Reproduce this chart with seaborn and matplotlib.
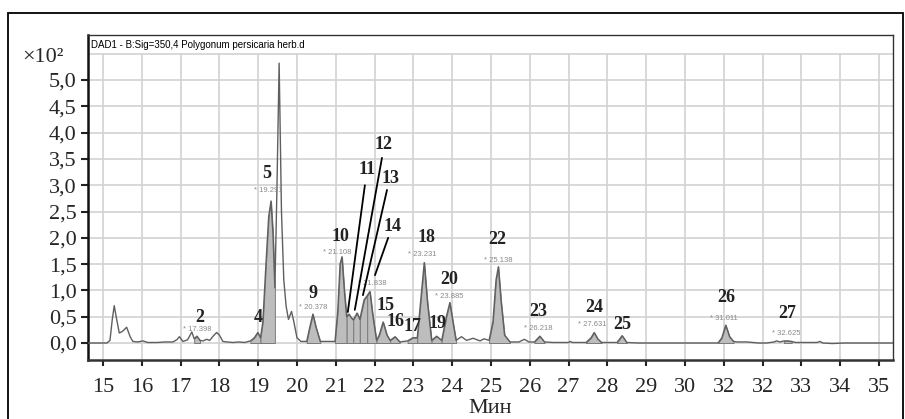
import numpy as np
import pandas as pd
import matplotlib
matplotlib.use("Agg")
import matplotlib.pyplot as plt
import seaborn as sns
from matplotlib.patches import Rectangle

# chromatogram trace: retention time (min) and signal (x10^2)
rt = [14.60, 15.10, 15.18, 15.24, 15.29, 15.34, 15.42, 15.50, 15.61, 15.70, 15.77, 15.90,
      16.03, 16.15, 16.40, 16.60, 16.80, 16.90, 16.97, 17.06, 17.18, 17.29, 17.35, 17.42,
      17.50, 17.58, 17.67, 17.75, 17.85, 17.93, 18.00, 18.09, 18.20, 18.35, 18.50, 18.65,
      18.80, 18.90, 18.99, 19.06, 19.12, 19.20, 19.27, 19.33, 19.38, 19.43, 19.48, 19.54,
      19.60, 19.66, 19.72, 19.78, 19.86, 19.92, 20.00, 20.10, 20.25, 20.33, 20.41, 20.49,
      20.60, 20.98, 21.05, 21.11, 21.16, 21.22, 21.28, 21.34, 21.40, 21.45, 21.55, 21.62,
      21.73, 21.81, 21.88, 21.95, 22.05, 22.12, 22.22, 22.32, 22.40, 22.53, 22.65, 22.85,
      22.99, 23.10, 23.20, 23.28, 23.36, 23.47, 23.60, 23.73, 23.85, 23.94, 24.02, 24.10,
      24.24, 24.37, 24.54, 24.72, 24.82, 24.95, 25.05, 25.13, 25.19, 25.26, 25.35, 25.49,
      25.60, 25.72, 25.86, 25.98, 26.12, 26.26, 26.38, 26.60, 27.00, 27.04, 27.10, 27.45,
      27.58, 27.66, 27.75, 27.85, 28.25, 28.38, 28.50, 28.80, 30.85, 30.95, 31.05, 31.15,
      31.25, 31.35, 31.60, 31.90, 32.10, 32.30, 32.36, 32.45, 32.55, 32.65, 32.75, 32.85,
      33.40, 33.48, 33.55, 33.80, 34.10, 35.36]
signal = [0.00, 0.00, 0.05, 0.45, 0.71, 0.50, 0.19, 0.22, 0.30, 0.12, 0.03, 0.02,
          0.04, 0.01, 0.01, 0.02, 0.02, 0.06, 0.12, 0.03, 0.06, 0.21, 0.08, 0.13,
          0.05, 0.04, 0.07, 0.05, 0.14, 0.20, 0.15, 0.03, 0.02, 0.01, 0.02, 0.01,
          0.04, 0.10, 0.20, 0.10, 0.40, 1.50, 2.40, 2.70, 2.10, 1.05, 2.80, 5.32,
          2.50, 1.20, 0.70, 0.45, 0.60, 0.40, 0.10, 0.03, 0.03, 0.30, 0.55, 0.30,
          0.03, 0.03, 0.60, 1.50, 1.64, 1.00, 0.50, 0.55, 0.48, 0.44, 0.57, 0.45,
          0.82, 0.90, 0.98, 0.55, 0.05, 0.15, 0.40, 0.15, 0.05, 0.12, 0.02, 0.04,
          0.10, 0.10, 0.90, 1.53, 0.80, 0.05, 0.13, 0.05, 0.50, 0.77, 0.40, 0.05,
          0.12, 0.05, 0.09, 0.04, 0.08, 0.05, 0.40, 1.20, 1.45, 0.80, 0.15, 0.02,
          0.02, 0.02, 0.07, 0.02, 0.02, 0.13, 0.02, 0.01, 0.01, 0.03, 0.01, 0.01,
          0.10, 0.20, 0.08, 0.01, 0.01, 0.14, 0.01, 0.00, 0.00, 0.10, 0.34, 0.12,
          0.03, 0.02, 0.02, 0.00, 0.00, 0.02, 0.04, 0.02, 0.04, 0.04, 0.03, 0.01,
          0.01, 0.03, 0.00, -0.01, 0.00, 0.00]

# integrated (shaded) peaks: number, start, end
peak_ids = ["2", "4", "5", "9", "10", "11", "12", "13", "14", "15", "16",
            "17", "18", "19", "20", "22", "23", "24", "25", "26", "27"]
peak_start = [17.35, 18.80, 19.06, 20.25, 20.98, 21.28, 21.45, 21.62, 21.81, 22.05, 22.40,
              22.85, 23.10, 23.47, 23.73, 24.95, 26.12, 27.45, 28.25, 30.85, 32.55]
peak_end = [17.50, 19.06, 19.43, 20.60, 21.28, 21.45, 21.62, 21.81, 22.05, 22.40, 22.65,
            23.10, 23.47, 23.73, 24.10, 25.49, 26.38, 27.85, 28.50, 31.25, 32.75]

# retention time tags printed by the software
rt_tags = ["17.398", "19.291", "20.378", "21.108", "21.838", "23.231",
           "23.885", "25.138", "26.218", "27.631", "31.011", "32.625"]

xtick_values = list(range(15, 36))
xtick_labels = ["15", "16", "17", "18", "19", "20", "21", "22", "23", "24", "25",
                "26", "27", "28", "29", "30", "32", "32", "33", "34", "35"]
ytick_values = [0.0, 0.5, 1.0, 1.5, 2.0, 2.5, 3.0, 3.5, 4.0, 4.5, 5.0]

# layout of annotations (data coords)
num_pos = {"2": (17.50, 0.49), "4": (19.00, 0.48), "5": (19.23, 3.23), "9": (20.41, 0.95),
           "10": (21.11, 2.02), "11": (21.81, 3.29), "12": (22.24, 3.78), "13": (22.42, 3.12),
           "14": (22.47, 2.22), "15": (22.29, 0.72), "16": (22.53, 0.40), "17": (22.99, 0.32),
           "18": (23.35, 2.00), "19": (23.61, 0.38), "20": (23.92, 1.20), "22": (25.15, 1.96),
           "23": (26.21, 0.59), "24": (27.65, 0.68), "25": (28.38, 0.36), "26": (31.06, 0.87),
           "27": (32.63, 0.57)}
tag_pos = [(17.42, 0.25), (19.25, 2.89), (20.41, 0.67), (21.03, 1.73), (21.93, 1.14),
           (23.23, 1.69), (23.93, 0.89), (25.20, 1.56), (26.21, 0.27), (27.60, 0.36),
           (31.00, 0.47), (32.60, 0.19)]
leaders = [((21.75, 3.00), (21.31, 0.59)), ((22.19, 3.52), (21.49, 0.63)),
           ((22.32, 2.91), (21.70, 0.91)), ((22.35, 2.00), (22.01, 1.29))]

df = pd.DataFrame({"rt": rt, "signal": signal})

sns.set_style("white")
plt.rcParams["font.family"] = ["Liberation Serif", "DejaVu Serif"]

fig = plt.figure(figsize=(9.05, 4.19), dpi=100)
ax = fig.add_axes([0.0972, 0.1408, 0.8895, 0.7757])

xmin, xmax = 14.613, 35.36
ymin, ymax = -0.323, 5.856
ax.set_xlim(xmin, xmax)
ax.set_ylim(ymin, ymax)

# grid (stops below the header line)
ax.vlines(xtick_values, ymin, 5.5, color="#d2d2d2", lw=1.2, zorder=0)
ax.hlines([v for v in ytick_values] + [5.5], xmin, xmax, color="#d2d2d2", lw=1.2, zorder=0)

# shaded peaks
t = df["rt"].to_numpy()
s = df["signal"].to_numpy()
for a, b in zip(peak_start, peak_end):
    m = (t >= a - 1e-9) & (t <= b + 1e-9)
    ax.fill_between(t[m], s[m], 0, facecolor="#bdbdbd", edgecolor="#7a7a7a",
                    lw=0.7, zorder=2)

sns.lineplot(data=df, x="rt", y="signal", estimator=None, sort=False,
             color="#5f5f5f", lw=1.0, ax=ax, zorder=3)

# peak numbers
for pid in peak_ids:
    x, y = num_pos[pid]
    ax.text(x, y, pid, ha="center", va="center", fontsize=13, fontweight="bold",
            color="#222222", zorder=5)

# retention time tags
for tag, (x, y) in zip(rt_tags, tag_pos):
    ax.text(x, y, "* " + tag, ha="center", va="center", fontsize=5.5,
            family="Liberation Sans", color="#8a8a8a", zorder=4)

for (x0, y0), (x1, y1) in leaders:
    ax.plot([x0, x1], [y0, y1], color="black", lw=1.3, zorder=6)

ax.text(0.004, 0.985, "DAD1 - B:Sig=350,4 Polygonum persicaria herb.d",
        transform=ax.transAxes, ha="left", va="top", fontsize=7.0,
        family="Liberation Sans", color="black")

ax.set_xticks(xtick_values)
ax.set_xticklabels(xtick_labels)
ax.set_yticks(ytick_values)
ax.set_yticklabels([f"{v:.1f}".replace(".", ",") for v in ytick_values])
ax.tick_params(axis="x", direction="out", length=4, width=1.5, pad=9, labelsize=16,
               color="#222222", bottom=True)
ax.tick_params(axis="y", direction="out", length=5, width=1.5, pad=3, labelsize=16,
               color="#222222", left=True)
ax.set_xlabel("Мин", fontsize=16, labelpad=1.5)
ax.set_ylabel("")

for side in ["top", "right"]:
    ax.spines[side].set_color("#333333")
    ax.spines[side].set_linewidth(1.0)
ax.spines["bottom"].set_color("#333333")
ax.spines["bottom"].set_linewidth(1.8)
ax.spines["left"].set_color("#111111")
ax.spines["left"].set_linewidth(1.8)

fig.text(22 / 905, 1 - 62 / 419, "×10²", fontsize=16, ha="left", va="baseline")

# outer frame of the figure panel
fig.patches.append(Rectangle((8 / 905, -0.1), 895 / 905, 1.1 - 13 / 419, fill=False,
                             lw=1.3, edgecolor="black", transform=fig.transFigure,
                             clip_on=False))

fig.savefig("out.png", dpi=100)
